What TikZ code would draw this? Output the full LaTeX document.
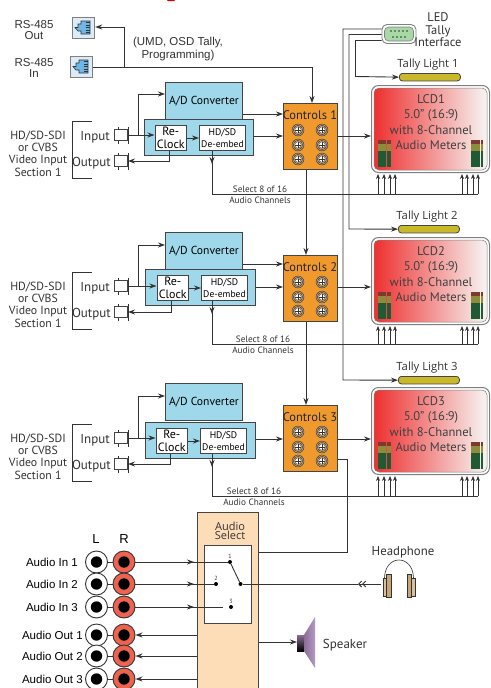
\documentclass[tikz,border=0pt]{standalone}
\usepackage{fontspec}
\setmainfont{PT Sans}
\newfontfamily\arialf{Liberation Sans}
\newfontfamily\openf{Open Sans}
\usetikzlibrary{arrows.meta,calc}
\definecolor{ink}{HTML}{333333}
\definecolor{blk}{HTML}{444444}
\definecolor{blu}{HTML}{9FD8EA}
\definecolor{org}{HTML}{F09A2E}
\definecolor{peach}{HTML}{FDDCB8}
\definecolor{rcared}{HTML}{EE6350}
\definecolor{tally}{HTML}{C9B82A}
\definecolor{tan}{HTML}{C8A574}
\definecolor{lcdl}{HTML}{EE3030}
\definecolor{lcdm}{HTML}{F2A48E}
\definecolor{lcdr}{HTML}{F6F5F3}
\definecolor{mred}{HTML}{7A3A30}
\definecolor{mol}{HTML}{8C8C3C}
\definecolor{mgr}{HTML}{1F5A34}
\definecolor{jackbg}{HTML}{DCEBF7}
\definecolor{jackfg}{HTML}{6FB7E6}
\definecolor{dbgreen}{HTML}{A6D9A6}
\definecolor{purpd}{HTML}{8A6E96}
\definecolor{purpl}{HTML}{B79AC4}
\tikzset{
  wire/.style={draw=ink,line width=.9pt},
  arr/.style={wire,-{Stealth[length=7pt,width=5pt]}},
  sarr/.style={wire,line width=.7pt,-{Stealth[length=5pt,width=4pt]}},
  txt/.style={inner sep=0pt,text=ink,align=center,font=\fontsize{#1}{#1}\selectfont},
  lab/.style={inner sep=0pt,text=ink,align=center,font=\arialf\fontsize{#1}{#1}\selectfont},
  box/.style={draw=blk,line width=1pt,inner sep=0pt,anchor=north west,align=center},
  bluebox/.style={box,fill=blu},
  whitebox/.style={box,fill=white},
  ctlbox/.style={box,fill=org,minimum width=54pt,minimum height=66pt},
  lcdouter/.style={draw=gray,fill=white,line width=1pt,rounded corners=7pt,anchor=north west,inner sep=0pt,minimum width=118pt,minimum height=87pt},
  lcdinner/.style={draw=gray,line width=.5pt,rounded corners=5pt,anchor=center,inner sep=0pt,minimum width=113pt,minimum height=82pt,left color=lcdl,middle color=lcdm,right color=lcdr},
  tallybar/.style={draw=blk,fill=tally,line width=.8pt,rounded corners=3pt,anchor=north west,inner sep=0pt,minimum width=61pt,minimum height=7.5pt},
  jack/.style={draw=gray,fill=jackbg,line width=1.2pt,anchor=north west,inner sep=0pt,minimum width=22pt,minimum height=21pt},
  bnc/.style={draw=blk,fill=white,line width=.8pt,anchor=east,inner sep=0pt,minimum width=13pt,minimum height=11pt},
  rcaL/.style={circle,draw=ink,fill=white,line width=.9pt,inner sep=0pt,minimum size=22pt},
  rcaR/.style={circle,draw=ink,fill=rcared,line width=.9pt,inner sep=0pt,minimum size=22pt},
  swpt/.style={circle,fill=black,inner sep=0pt,minimum size=4pt},
}
\newcommand{\screw}[2]{%
  \fill[tan!60!gray,draw=ink,line width=.4pt] (#1,#2) circle (6pt);
  \fill[org!70!white,draw=ink,line width=.4pt] (#1,#2) circle (4.6pt);
  \fill[white,draw=ink,line width=.4pt] (#1,#2) circle (3.3pt);
  \draw[ink,line width=.7pt] (#1-3.3,#2) -- (#1+3.3,#2) (#1,#2-3.3) -- (#1,#2+3.3);}
\newcommand{\meter}[4]{% x, y, columns, pitch
  \foreach \c in {1,...,#3}{
    \pgfmathsetmacro{\cx}{#1+(\c-1)*#4}
    \pgfmathsetmacro{\cw}{#4-.5}
    \fill[mred] (\cx,#2) rectangle (\cx+\cw,#2+4);
    \fill[mol] (\cx,#2+4) rectangle (\cx+\cw,#2+11);
    \fill[mgr] (\cx,#2+11) rectangle (\cx+\cw,#2+27);
  }}
\newcommand{\rjglyph}[2]{% left, top of glyph box
  \filldraw[fill=jackfg,draw=ink,line width=.6pt] (#1+3,#2+10.5) -- (#1+6,#2+10.5) -- (#1+6,#2+7) -- (#1+9,#2+7) -- (#1+9,#2+4) -- (#1+18,#2+4) -- (#1+18,#2+17) -- (#1+9,#2+17) -- (#1+9,#2+14) -- (#1+6,#2+14) -- cycle;
  \foreach \k in {0,...,4}{\draw[ink,line width=.5pt] (#1+13.5,#2+5.5+\k*2.5) -- (#1+18,#2+5.5+\k*2.5);}
}
\begin{document}
\begin{tikzpicture}[x=1pt,y=-1pt]
\useasboundingbox (0,0) rectangle (490,688);
\fill[white] (0,0) rectangle (490,688);
\fill[red!85!black] (167,0) -- (175,0) -- (174,1.2) -- (168,1.2) -- cycle;

% RS-485
\node[jack] (rsout) at (72,17) {};
\node[jack] (rsin) at (70,56) {};
\rjglyph{72}{17}
\rjglyph{70}{56}
\node[lab=11.5] (rsouttxt) at (34,30) {RS-485\\[-.5pt]Out};
\node[lab=11.5] (rsintxt) at (34,68) {RS-485\\[-.5pt]In};
\node[lab=11.5,text depth=0pt] (umd) at (178,48) {(UMD, OSD Tally,\\[2pt]Programming)};

% LED interface
\node[draw=gray,fill=white,line width=.9pt,rounded corners=5pt,minimum width=34pt,minimum height=19pt,inner sep=0pt] (db) at (399,34) {};
\node[draw=gray,fill=dbgreen,line width=.6pt,rounded corners=4pt,minimum width=29pt,minimum height=14pt,inner sep=0pt] (dbin) at (399,34) {};
\foreach \k in {0,...,4}{\fill[ink] (391+\k*4,31) circle (.8pt);}
\foreach \k in {0,...,3}{\fill[ink] (393+\k*4,37) circle (.8pt);}
\node[txt=12.5] (ledtxt) at (438,30) {LED\\[0pt]Tally\\[0pt]Interface};

% sections
\foreach \i/\yo/\adt/\ady/\blt/\bll/\blw/\dx/\ct/\lt/\au/\sx/\ttop/\tlx in {
  1/135/82/94/119/144/109/-1/103/85/194/260/73/399,
  2/286/232/245/269/145/110/1/255/237/344/263/225/398,
  3/438/383/396/422/145/110/0/405/387/496/254/376/398}{
  \pgfmathsetmacro{\rx}{170+\dx}
  \pgfmathsetmacro{\rcl}{155.5+\dx}
  \pgfmathsetmacro{\hdl}{200+\dx}
  \pgfmathsetmacro{\rct}{\blt+6}
  \pgfmathsetmacro{\oy}{\yo+26}
  % left block
  \node[txt=11.8] (sec\i) at (38,\yo+18.5) {HD/SD-SDI\\[0.6pt]or CVBS\\[0.6pt]Video Input\\[0.6pt]Section 1};
  \draw[ink,line width=.9pt] (92,\yo-14) -- (72,\yo-14) -- (72,\yo+43) -- (92,\yo+43);
  \node[txt=13,anchor=east] (inl\i) at (110,\yo+2) {Input};
  \node[txt=13,anchor=east] (outl\i) at (111,\oy+2) {Output};
  \node[bnc] (inc\i) at (128,\yo) {};
  \node[bnc] (outc\i) at (128,\oy) {};
  \draw[ink,line width=.8pt] (128,\yo-8) -- (128,\yo+9) (118,\yo-8) -- (118,\yo-5) (118,\yo+6) -- (118,\yo+9);
  \draw[ink,line width=.8pt] (128,\oy-8) -- (128,\oy+9) (118,\oy-8) -- (118,\oy-5) (118,\oy+6) -- (118,\oy+9);
  % blocks
  \node[bluebox,minimum width=\blw pt,minimum height=36pt] (blue\i) at (\bll,\blt) {};
  \node[bluebox,minimum width=77pt,minimum height=37pt,font=\fontsize{11.6}{12}\selectfont] (ad\i) at (165,\adt) {A/D Converter};
  \node[whitebox,minimum width=31.5pt,minimum height=25pt,font=\fontsize{12}{12.5}\selectfont] (rc\i) at (\rcl,\rct) {Re-\\Clock};
  \node[whitebox,minimum width=46pt,minimum height=25pt,font=\fontsize{9.6}{12}\selectfont] (hd\i) at (\hdl,\rct) {HD/SD\\De-embed};
  \node[ctlbox] (ctl\i) at (283,\ct) {};
  \node[txt=12.5,text=black!85] (ctltxt\i) at (310,\ct+12) {Controls \i};
  \foreach \sy in {27,42,56}{\screw{298}{\ct+\sy}\screw{322}{\ct+\sy}}
  % input wiring
  \draw[arr] (inc\i.east) -- (rc\i.west |- inc\i.east);
  \coordinate (tee\i) at (138,\yo);
  \draw[arr] (tee\i) |- (ad\i.west |- 0,\ady);
  \draw[arr] (rc\i.east) -- (hd\i.west);
  \draw[arr] (rc\i.south -| \rx,0) |- (outc\i.east);
  \draw[arr] (blue\i.east |- 0,\yo+1) -- (ctl\i.west |- 0,\yo+1);
  \ifnum\i<3 \draw[arr] (ad\i.east |- 0,\adt+32) -- (ctl\i.west |- 0,\adt+32); \fi
  % audio select line
  \coordinate (aud\i) at (478,\au);
  \draw[wire] (hd\i.south -| 212,0) |- (aud\i);
  \draw[arr] (hd\i.south -| 212,0) -- ++(0,13);
  \node[txt=9.2] (sel\i) at (\sx,\au-5) {Select 8 of 16};
  \node[txt=9.2] (selb\i) at (\sx,\au+6) {Audio Channels};
  % LCD
  \node[lcdouter] (lcd\i) at (371,\lt) {};
  \node[lcdinner] (lcdin\i) at (lcd\i.center) {};
  \node[txt=12.6,text=black!75] (lcdtxt\i) at (431,\lt+37) {LCD\i\\[2.6pt]5.0" (16:9)\\[2.6pt]with 8-Channel\\[2.6pt]Audio Meters};
  \meter{378}{\lt+55}{3}{4.4}
  \meter{471}{\lt+55}{4}{3.2}
  \draw[arr] (ctl\i.east |- 0,\yo+1) -- (lcd\i.west |- 0,\yo+1);
  \foreach \ax in {378,384,390,395,462,467,473,478}{
    \draw[sarr] (\ax,\au) -- (\ax,\lt+89);
  }
  % tally
  \node[tallybar] (tl\i) at (\tlx,\ttop) {};
  \node[font=\openf\fontsize{11.3}{11}\selectfont,inner sep=0pt,text=ink] (tltxt\i) at (\tlx+29,\ttop-8) {Tally Light \i};
}
% top wiring
\coordinate (rsbr) at (124,67);
\draw[arr] (rsin.east |- rsbr) -| (ctl1.north -| 312,0);
\draw[arr] (rsbr) |- (rsout.east |- 0,27);
\draw[arr] (ctl1.south -| 306,0) -- (ctl2.north -| 306,0);
\draw[arr] (ctl2.south -| 306,0) -- (ctl3.north -| 306,0);
\draw[arr] (db.west |- 0,29) -| (343,380) -- (tl3.west);
\draw[arr] (db.west |- 0,34.5) -| (349,229) -- (tl2.west);
\draw[arr] (db.west |- 0,40.5) -| (355.5,76.5) -- (tl1.west);

% Audio select
\node[box,fill=peach,line width=1.1pt,minimum width=61pt,minimum height=178pt] (asel) at (197,512) {};
\node[font=\openf\fontsize{11}{8.5}\selectfont,inner sep=0pt,text=ink,align=center] (aseltxt) at (230,531) {Audio\\Select};
\node[whitebox,minimum width=47pt,minimum height=78pt] (swbox) at (204,545) {};
\node[swpt] (sw1) at (230,562) {};
\node[swpt] (sw2) at (216,584) {};
\node[swpt] (sw3) at (231,607) {};
\node[swpt] (swc) at (240.5,584) {};
\node[txt=6] (n1) at (230,556) {1};
\node[txt=6] (n2) at (216,578) {2};
\node[txt=6] (n3) at (231,601) {3};
\draw[wire] (sw1) -- (swc);
\coordinate (swe) at (223,607);

\node[font=\arialf\fontsize{13}{13}\selectfont,inner sep=0pt] (hl) at (96,539) {L};
\node[font=\arialf\fontsize{13}{13}\selectfont,inner sep=0pt] (hr) at (124,539) {R};
\foreach \n/\yy/\lb/\lx in {1/562/Audio In 1/78,2/584/Audio In 2/78,3/607/Audio In 3/78,4/635/Audio Out 1/83,5/656/Audio Out 2/83,6/679/Audio Out 3/83}{
  \draw[wire] (96.5,\yy) -- (124,\yy);
  \node[rcaL] (rl\n) at (96.5,\yy) {};
  \node[rcaR] (rr\n) at (124,\yy) {};
  \fill[black] (rl\n.center) circle (5.7pt);
  \fill[black] (rr\n.center) circle (5.7pt);
  \node[font=\arialf\fontsize{11.5}{12}\selectfont,inner sep=0pt,anchor=east] (al\n) at (\lx,\yy) {\lb};
}
\draw[wire] (rr1.east) -- (sw1);
\draw[wire] (rr2.east) -- (sw2);
\draw[wire] (rr3.east) -- (swe);
\foreach \n/\t in {1/562,2/584,3/607}{\draw[arr] (rr\n.east) -- (194,\t);}
\foreach \n/\t in {4/635,5/656,6/679}{
  \draw[arr] (asel.west |- 0,\t) -- (rr\n.east);
}
% Controls 3 to select
\draw[wire] (ctl3.east |- 0,459) -| (347,552) -- (asel.east |- 0,552);

% Headphone
\node[txt=12.8] (hptxt) at (403,552) {Headphone};
\fill[tan!70!white,draw=ink,line width=.5pt] (383,578) rectangle (386.5,596);
\fill[tan,draw=ink,line width=.5pt] (386.5,574) rectangle (391,597);
\fill[tan!70!white,draw=ink,line width=.5pt] (411.5,578) rectangle (415,596);
\fill[tan,draw=ink,line width=.5pt] (407,574) rectangle (411.5,597);
\draw[ink,line width=.6pt] (384.5,578) .. controls (385,554) and (413,554) .. (413.5,578);
\coordinate (hpin) at (381,584);
\coordinate (hptip) at (358,584);
\draw[wire,-{Straight Barb[length=3pt,width=6pt]Straight Barb[length=3pt,width=6pt]}] (hpin) -- (hptip);
\draw[wire] (hptip) -- (swc);

% Speaker
\shade[top color=purpd,bottom color=black] (297,635) rectangle (304,651);
\shade[left color=purpd,right color=purpl] (304,635) -- (315,617) -- (315,668) -- (304,651) -- cycle;
\coordinate (spk) at (297,642);
\draw[arr] (asel.east |- spk) -- (spk);
\node[txt=13] (spktxt) at (345,645) {Speaker};
\end{tikzpicture}
\end{document}
